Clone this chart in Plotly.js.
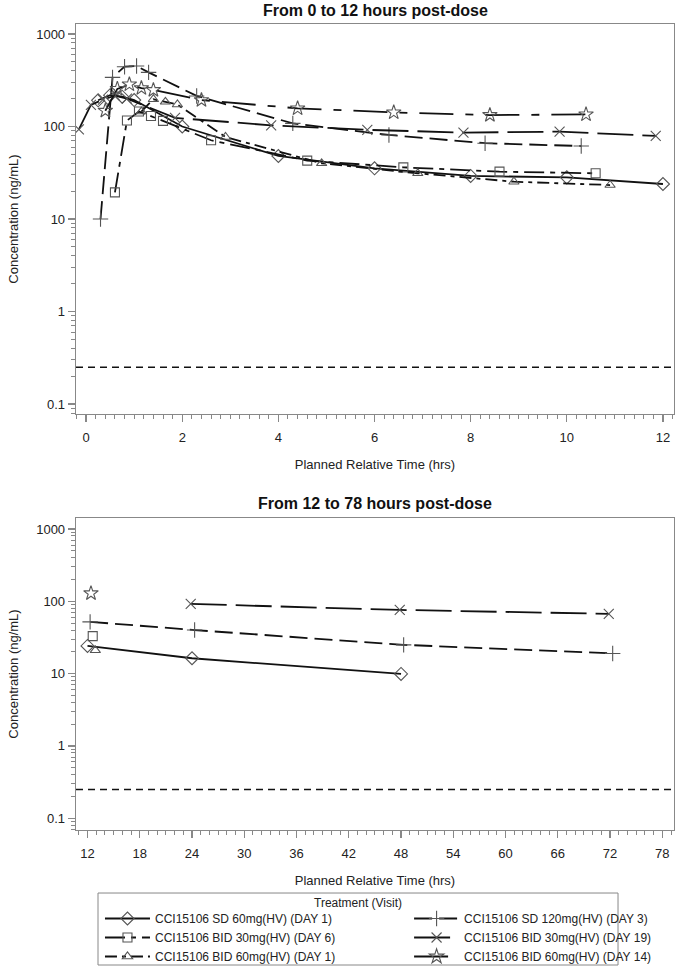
<!DOCTYPE html>
<html><head><meta charset="utf-8">
<script src="https://cdn.plot.ly/plotly-3.0.1.min.js"></script>
<style>html,body{margin:0;padding:0;background:#fff}#chart{width:675px;height:966px}</style>
</head><body><div id="chart"></div>
<script>
// ---- Series names (legend order) ----
const seriesNames = [
  'CCI15106 SD 60mg(HV) (DAY 1)',
  'CCI15106 SD 120mg(HV) (DAY 3)',
  'CCI15106 BID 30mg(HV) (DAY 6)',
  'CCI15106 BID 30mg(HV) (DAY 19)',
  'CCI15106 BID 60mg(HV) (DAY 1)',
  'CCI15106 BID 60mg(HV) (DAY 14)'
];
const legendTitle = 'Treatment (Visit)';

// ---- Panel 1: 0 to 12 h post-dose (plotted time incl. group offset, hrs ; concentration ng/mL) ----
const sd60d1_t   = [0.25, 0.5, 0.75, 1, 2, 4, 6, 8, 10, 12];
const sd60d1_c   = [192, 218, 210, 193, 100, 48, 35.3, 29.2, 28.2, 23.9];
const sd120d3_t  = [0.3, 0.55, 0.8, 1.05, 1.3, 2.3, 4.3, 6.3, 8.3, 10.3];
const sd120d3_c  = [10, 340, 443, 451, 385, 214, 108, 81, 66, 61.5];
const bid30d6_t  = [0.6, 0.85, 1.1, 1.35, 1.6, 2.6, 4.6, 6.6, 8.6, 10.6];
const bid30d6_c  = [19.4, 116, 145, 130, 115, 71, 42.8, 36.2, 32.5, 31.2];
const bid30d19_t = [-0.15, 0.1, 0.35, 0.6, 0.85, 1.85, 3.85, 5.85, 7.85, 9.85, 11.85];
const bid30d19_c = [93, 171, 195, 215, 200, 124, 103, 92, 86, 88, 79];
const bid60d1_t  = [1.15, 1.4, 1.65, 1.9, 2.9, 4.9, 6.9, 8.9, 10.9];
const bid60d1_c  = [145, 197, 185, 173, 77, 40, 31.2, 25.3, 23.3];
const bid60d14_t = [0.4, 0.65, 0.9, 1.15, 1.4, 2.4, 4.4, 6.4, 8.4, 10.4];
const bid60d14_c = [148, 255, 285, 260, 248, 193, 157, 142, 133, 135];

// ---- Panel 2: 12 to 78 h post-dose ----
const sd60d1_t2   = [12, 24, 48];
const sd60d1_c2   = [24.1, 16.3, 9.9];
const sd120d3_t2  = [12.3, 24.3, 48.3, 72.3];
const sd120d3_c2  = [52, 40, 25, 19];
const bid30d6_t2  = [12.6];
const bid30d6_c2  = [33];
const bid30d19_t2 = [23.85, 47.85, 71.85];
const bid30d19_c2 = [92, 76, 67];
const bid60d1_t2  = [12.9];
const bid60d1_c2  = [21];
const bid60d14_t2 = [12.4];
const bid60d14_c2 = [129];

const LLQ = 0.25;
const yTickVals = [0.1, 1, 10, 100, 1000];
const yTickText = ['0.1', '1', '10', '100', '1000'];

// ---- styles ----
const symbols = ['diamond-open', 'cross-thin-open', 'square-open', 'x-thin-open', 'triangle-up-open', 'star-open'];
const msizes  = [10, 11, 9, 10, 9, 11];
const dashes  = ['solid', '18px,7px', '20px,6px,5px,6px', '36px,9px', '12px,5px,4px,5px', '34px,12px,8px,12px'];
const legendCol = ['legend', 'legend2', 'legend', 'legend2', 'legend', 'legend2'];

const panelTop = [[sd60d1_t, sd60d1_c], [sd120d3_t, sd120d3_c], [bid30d6_t, bid30d6_c],
             [bid30d19_t, bid30d19_c], [bid60d1_t, bid60d1_c], [bid60d14_t, bid60d14_c]];
const panelBot = [[sd60d1_t2, sd60d1_c2], [sd120d3_t2, sd120d3_c2], [bid30d6_t2, bid30d6_c2],
             [bid30d19_t2, bid30d19_c2], [bid60d1_t2, bid60d1_c2], [bid60d14_t2, bid60d14_c2]];

const traces = [];
function mk(i, xs, ys, xa, ya, show) {
  return {
    type: 'scatter', mode: 'lines+markers', x: xs, y: ys, xaxis: xa, yaxis: ya,
    name: seriesNames[i], legendgroup: 'g' + i, showlegend: show, legend: legendCol[i],
    line: {color: '#111', width: 1.8, dash: dashes[i]},
    marker: {symbol: symbols[i], size: msizes[i], color: '#555', line: {color: '#555', width: 1.1}},
    hoverinfo: 'x+y+name'
  };
}
panelTop.forEach((s, i) => traces.push(mk(i, s[0], s[1], 'x', 'y', true)));
panelBot.forEach((s, i) => traces.push(mk(i, s[0], s[1], 'x2', 'y2', false)));

const minorLog = [];
for (let e = -2; e <= 3; e++) for (let m = 2; m <= 9; m++) minorLog.push(m * Math.pow(10, e));

const FONT = 'Liberation Sans, Arial, sans-serif';
const axisBase = {
  showline: true, mirror: true, linecolor: '#888', linewidth: 1.3,
  showgrid: false, zeroline: false, ticks: 'outside', ticklen: 7,
  tickcolor: '#888', tickwidth: 1.3, tickfont: {size: 13, color: '#222', family: FONT}
};
const yAxisCommon = Object.assign({}, axisBase, {
  type: 'log', tickmode: 'array', tickvals: yTickVals, ticktext: yTickText,
  minor: {tickmode: 'array', tickvals: minorLog, ticks: 'outside', ticklen: 4, tickcolor: '#888', tickwidth: 1},
  title: {text: 'Concentration (ng/mL)', font: {size: 13, color: '#222', family: FONT}, standoff: 14}
});

const legendBase = {
  orientation: 'v', xanchor: 'left', yanchor: 'top', y: -0.0918,
  itemwidth: 45, borderwidth: 0, bgcolor: 'rgba(0,0,0,0)',
  font: {size: 12, color: '#222', family: FONT}, tracegroupgap: 0, traceorder: 'normal'
};

const layout = {
  width: 675, height: 966,
  margin: {l: 76, r: 1, t: 24, b: 136, autoexpand: false},
  paper_bgcolor: '#fff', plot_bgcolor: '#fff',
  font: {family: FONT, color: '#222'},
  showlegend: true,
  xaxis: Object.assign({}, axisBase, {
    anchor: 'y', domain: [0, 1], range: [-0.21, 12.23], tick0: 0, dtick: 2,
    ticklabelstandoff: 4,
    minor: {ticks: 'outside', ticklen: 4, tick0: 0, dtick: 0.2, tickcolor: '#888', tickwidth: 1},
    title: {text: 'Planned Relative Time (hrs)', font: {size: 13, color: '#222', family: FONT}, standoff: 16}
  }),
  yaxis: Object.assign({}, yAxisCommon, {anchor: 'x', domain: [0.5161, 1], range: [-1.108, 3.108]}),
  xaxis2: Object.assign({}, axisBase, {
    anchor: 'y2', domain: [0, 1], range: [10.68, 79.34], tick0: 12, dtick: 6,
    ticklabelstandoff: 4,
    minor: {ticks: 'outside', ticklen: 4, tick0: 12, dtick: 1, tickcolor: '#888', tickwidth: 1},
    title: {text: 'Planned Relative Time (hrs)', font: {size: 13, color: '#222', family: FONT}, standoff: 16}
  }),
  yaxis2: Object.assign({}, yAxisCommon, {anchor: 'x2', domain: [0, 0.3871], range: [-1.163, 3.152]}),
  shapes: [
    {type: 'line', xref: 'x domain', x0: 0, x1: 1, yref: 'y', y0: LLQ, y1: LLQ, line: {color: '#111', width: 1.5, dash: '7px,5px'}},
    {type: 'line', xref: 'x2 domain', x0: 0, x1: 1, yref: 'y2', y0: LLQ, y1: LLQ, line: {color: '#111', width: 1.5, dash: '7px,5px'}},
    // legend frame
    {type: 'rect', xref: 'paper', yref: 'paper', x0: 0.0368, x1: 0.9064, y0: -0.0782, y1: -0.1675, line: {color: '#888', width: 1}, fillcolor: 'rgba(0,0,0,0)'}
  ],
  annotations: [
    {text: '<b>From 0 to 12 hours post-dose</b>', xref: 'paper', yref: 'paper', x: 0.5, y: 1.0165, xanchor: 'center', yanchor: 'middle', showarrow: false, font: {size: 16, color: '#111', family: FONT}},
    {text: '<b>From 12 to 78 hours post-dose</b>', xref: 'paper', yref: 'paper', x: 0.5, y: 0.4045, xanchor: 'center', yanchor: 'middle', showarrow: false, font: {size: 16, color: '#111', family: FONT}},
    {text: legendTitle, xref: 'paper', yref: 'paper', x: 0.4716, y: -0.0906, xanchor: 'center', yanchor: 'middle', showarrow: false, font: {size: 12, color: '#222', family: FONT}}
  ],
  legend: Object.assign({}, legendBase, {x: 0.0401}),
  legend2: Object.assign({}, legendBase, {x: 0.557})
};

Plotly.newPlot('chart', traces, layout, {displayModeBar: false, staticPlot: true});
</script>
</body></html>
